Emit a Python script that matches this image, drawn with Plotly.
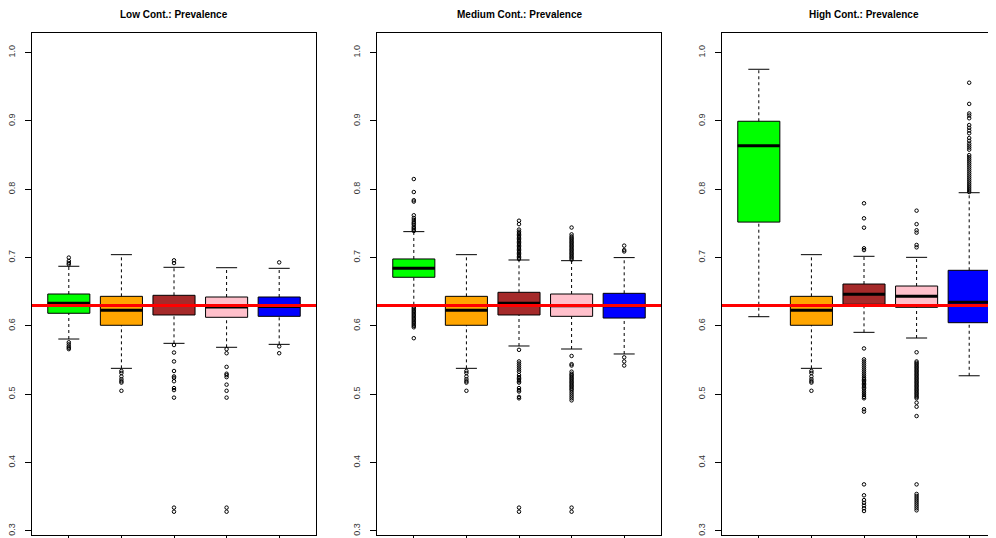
import plotly.graph_objects as go

# ---------------- data ----------------
positions = [1, 2, 3, 4, 5]
colors = ["#00FF00", "#FFA500", "#A52A2A", "#FFC0CB", "#0000FF"]
titles = ["Low Cont.: Prevalence", "Medium Cont.: Prevalence", "High Cont.: Prevalence"]
true_prevalence = 0.63
y_ticks = [0.3, 0.4, 0.5, 0.6, 0.7, 0.8, 0.9, 1.0]
y_tick_labels = ["0.3", "0.4", "0.5", "0.6", "0.7", "0.8", "0.9", "1.0"]

orange_out = [0.534, 0.531, 0.526, 0.522, 0.519, 0.517, 0.505]

# Low contamination
low_q1 = [0.6185, 0.6009, 0.6160, 0.6126, 0.6140]
low_median = [0.6331, 0.6228, 0.6300, 0.6277, 0.6285]
low_q3 = [0.6467, 0.6433, 0.6448, 0.6423, 0.6423]
low_lower = [0.5808, 0.5379, 0.5745, 0.5687, 0.5730]
low_upper = [0.6873, 0.7043, 0.6858, 0.6852, 0.6843]
low_outliers = [
    [0.700, 0.695, 0.692, 0.690, 0.576, 0.573, 0.570, 0.568, 0.566],
    orange_out,
    [0.696, 0.692, 0.572, 0.561, 0.548, 0.534, 0.526, 0.524, 0.519, 0.509, 0.506, 0.495, 0.334, 0.328],
    [0.566, 0.560, 0.540, 0.530, 0.528, 0.525, 0.514, 0.505, 0.495, 0.334, 0.328],
    [0.693, 0.570, 0.560],
]

# Medium contamination
med_q1 = [0.6712, 0.6009, 0.6160, 0.6140, 0.6115]
med_median = [0.6843, 0.6228, 0.6330, 0.6296, 0.6296]
med_q3 = [0.6980, 0.6433, 0.6492, 0.6467, 0.6477]
med_lower = [0.6310, 0.5379, 0.5706, 0.5662, 0.5589]
med_upper = [0.7380, 0.7043, 0.6965, 0.6955, 0.7000]
med_outliers = [
    [0.815, 0.796, 0.784, 0.782, 0.762, 0.758, 0.755, 0.752, 0.750, 0.748, 0.745, 0.743, 0.741, 0.739,
     0.628, 0.626, 0.624, 0.622, 0.620, 0.618, 0.616, 0.614, 0.612, 0.610, 0.608, 0.606, 0.604, 0.602,
     0.600, 0.598, 0.582],
    orange_out,
    [0.754, 0.749, 0.741, 0.738, 0.736, 0.734, 0.732, 0.730, 0.728, 0.726, 0.724, 0.722, 0.720, 0.718,
     0.716, 0.714, 0.712, 0.710, 0.708, 0.706, 0.704, 0.702, 0.700, 0.698,
     0.565, 0.548, 0.545, 0.542, 0.539, 0.536, 0.533, 0.528, 0.525, 0.523, 0.521, 0.519, 0.517,
     0.509, 0.506, 0.504, 0.496, 0.494, 0.334, 0.328],
    [0.744, 0.734, 0.731, 0.729, 0.727, 0.725, 0.723, 0.721, 0.719, 0.717, 0.715, 0.713, 0.711, 0.709,
     0.707, 0.705, 0.703, 0.701, 0.699, 0.697,
     0.556, 0.544, 0.542, 0.533, 0.530, 0.528, 0.526, 0.524, 0.522, 0.520, 0.518, 0.516, 0.514, 0.512,
     0.510, 0.508, 0.506, 0.503, 0.500, 0.497, 0.494, 0.491, 0.334, 0.328],
    [0.7175, 0.711, 0.709, 0.554, 0.548, 0.542],
]

# High contamination
high_q1 = [0.7520, 0.6009, 0.6316, 0.6272, 0.6047]
high_median = [0.8638, 0.6228, 0.6463, 0.6433, 0.6346]
high_q3 = [0.8996, 0.6433, 0.6613, 0.6584, 0.6814]
high_lower = [0.6135, 0.5379, 0.5906, 0.5823, 0.5270]
high_upper = [0.9757, 0.7043, 0.7019, 0.7004, 0.7950]
high_outliers = [
    [],
    orange_out,
    [0.7795, 0.7575, 0.7438, 0.7136, 0.711, 0.567, 0.551, 0.548, 0.545, 0.542, 0.539, 0.536, 0.533,
     0.530, 0.527, 0.524, 0.522, 0.520, 0.518, 0.516, 0.514, 0.512, 0.510, 0.508, 0.505, 0.502, 0.499,
     0.496, 0.494, 0.478, 0.4745, 0.368, 0.352, 0.345, 0.341, 0.337, 0.333, 0.329],
    [0.7687, 0.749, 0.740, 0.7365, 0.7185, 0.715, 0.5614, 0.548, 0.546, 0.544, 0.542, 0.540, 0.538,
     0.536, 0.534, 0.532, 0.530, 0.528, 0.526, 0.524, 0.522, 0.520, 0.518, 0.516, 0.514, 0.512, 0.510,
     0.508, 0.506, 0.504, 0.502, 0.500, 0.498, 0.496, 0.494, 0.4876, 0.4817, 0.468, 0.368, 0.354,
     0.351, 0.348, 0.345, 0.342, 0.339, 0.336, 0.333, 0.330],
    [0.956, 0.925, 0.911, 0.908, 0.904, 0.894, 0.890, 0.886, 0.882, 0.875, 0.871, 0.867, 0.864, 0.861,
     0.858, 0.850, 0.847, 0.844, 0.841, 0.838, 0.835, 0.832, 0.829, 0.826, 0.823, 0.820, 0.817, 0.814,
     0.811, 0.808, 0.805, 0.802, 0.799, 0.796],
]

panels = [
    (low_q1, low_median, low_q3, low_lower, low_upper, low_outliers),
    (med_q1, med_median, med_q3, med_lower, med_upper, med_outliers),
    (high_q1, high_median, high_q3, high_lower, high_upper, high_outliers),
]

# ---------------- layout geometry ----------------
W, H = 996, 538
OFF = 8  # page body margin in the browser
BOXW = 0.8
STAPLE = 0.4
# panel pixel extents in the window, converted to figure pixels
panel_px = [(32 - OFF, 316 - OFF), (377 - OFF, 661 - OFF), (722 - OFF, 996 - OFF)]
full_w = 284
units = 5.4
x_ranges = []
for (a, b) in panel_px:
    x_ranges.append([0.3, 0.3 + (b - a) / full_w * units])

fig = go.Figure()

for i, (q1, med, q3, lo, up, outl) in enumerate(panels):
    xa = "x" if i == 0 else f"x{i+1}"
    ya = "y" if i == 0 else f"y{i+1}"
    # whiskers (dashed)
    wx, wy = [], []
    for p, a, b, c, d in zip(positions, lo, q1, q3, up):
        wx += [p, p, None, p, p, None]
        wy += [a, b, None, c, d, None]
    fig.add_trace(go.Scatter(x=wx, y=wy, mode="lines", xaxis=xa, yaxis=ya,
                             line=dict(color="black", width=1, dash="3px,3px"),
                             showlegend=False, hoverinfo="skip"))
    # staples
    sx, sy = [], []
    for p, a, d in zip(positions, lo, up):
        sx += [p - STAPLE / 2, p + STAPLE / 2, None, p - STAPLE / 2, p + STAPLE / 2, None]
        sy += [a, a, None, d, d, None]
    fig.add_trace(go.Scatter(x=sx, y=sy, mode="lines", xaxis=xa, yaxis=ya,
                             line=dict(color="black", width=1),
                             showlegend=False, hoverinfo="skip"))
    # boxes
    for j, p in enumerate(positions):
        fig.add_trace(go.Box(x=[p], q1=[q1[j]], median=[med[j]], q3=[q3[j]],
                             lowerfence=[q1[j]], upperfence=[q3[j]],
                             width=BOXW, whiskerwidth=0, boxpoints=False,
                             fillcolor=colors[j], line=dict(color="black", width=1),
                             xaxis=xa, yaxis=ya, showlegend=False, hoverinfo="skip"))
    # medians (thick)
    mx, my = [], []
    for p, m in zip(positions, med):
        mx += [p - BOXW / 2, p + BOXW / 2, None]
        my += [m, m, None]
    fig.add_trace(go.Scatter(x=mx, y=my, mode="lines", xaxis=xa, yaxis=ya,
                             line=dict(color="black", width=3),
                             showlegend=False, hoverinfo="skip"))
    # outliers
    ox, oy = [], []
    for p, vals in zip(positions, outl):
        ox += [p] * len(vals)
        oy += vals
    fig.add_trace(go.Scatter(x=ox, y=oy, mode="markers", xaxis=xa, yaxis=ya,
                             marker=dict(symbol="circle-open", size=3.5, color="black",
                                         line=dict(width=1, color="black")),
                             showlegend=False, hoverinfo="skip"))

layout = dict(
    width=W, height=H,
    margin=dict(l=0, r=0, t=0, b=0),
    paper_bgcolor="white", plot_bgcolor="white",
    showlegend=False,
    boxmode="overlay",
    font=dict(family="Liberation Sans, Arial, sans-serif", color="black"),
)
y_dom = [1 - (535 - OFF) / H, 1 - (33 - OFF) / H]
for i, (a, b) in enumerate(panel_px):
    sfx = "" if i == 0 else str(i + 1)
    layout["xaxis" + sfx] = dict(
        domain=[a / W, b / W], range=x_ranges[i], anchor="y" + sfx,
        showgrid=False, zeroline=False, showline=True, linecolor="black", linewidth=1,
        mirror=True, ticks="outside", ticklen=6, tickcolor="black",
        tickvals=positions, showticklabels=False, fixedrange=True,
    )
    layout["yaxis" + sfx] = dict(
        domain=y_dom, range=[0.2939, 1.0288], anchor="x" + sfx,
        showgrid=False, zeroline=False, showline=True, linecolor="black", linewidth=1,
        mirror=(i < 2), ticks="outside", ticklen=6, tickcolor="black",
        tickvals=y_ticks, ticktext=y_tick_labels, tickangle=-90,
        tickfont=dict(size=9, color="#333"), ticklabelstandoff=6, fixedrange=True,
    )
fig.update_layout(**layout)

for i, (a, b) in enumerate(panel_px):
    sfx = "" if i == 0 else str(i + 1)
    fig.add_shape(type="line", x0=0, x1=1, y0=true_prevalence, y1=true_prevalence,
                  xref=f"x{sfx} domain", yref=f"y{sfx}", layer="above",
                  line=dict(color="red", width=3))

centers = [174 - OFF, 519 - OFF, 864 - OFF]
for t, c in zip(titles, centers):
    fig.add_annotation(text=f"<b>{t}</b>", x=c / W, y=1 - (14 - OFF) / H, xref="paper", yref="paper",
                       showarrow=False, xanchor="center", yanchor="middle",
                       font=dict(size=10, color="black", family="Liberation Sans, Arial, sans-serif"))

fig.write_html("out.html")
